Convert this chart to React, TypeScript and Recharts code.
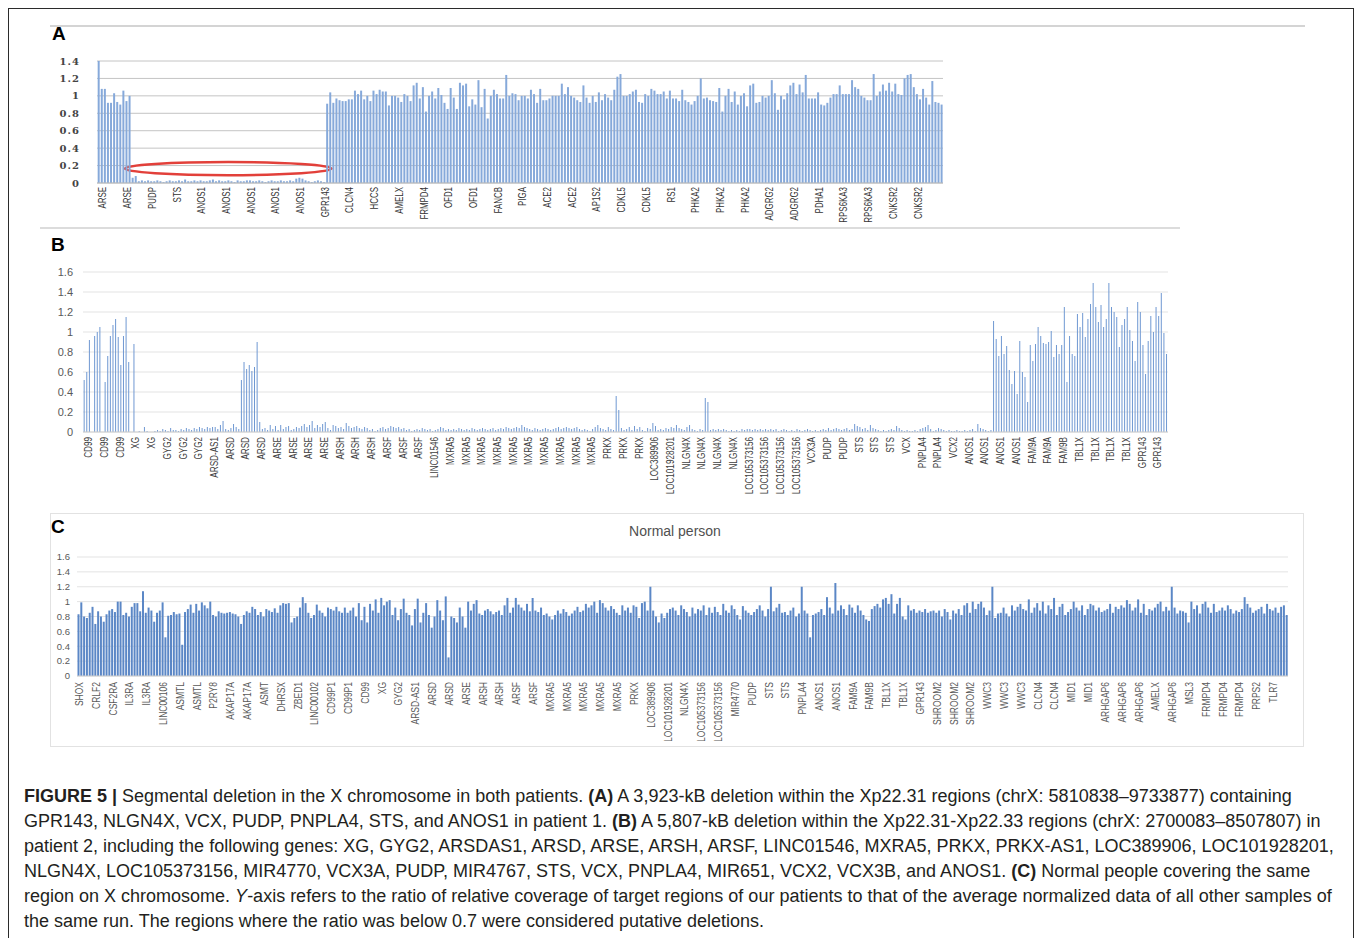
import { BarChart, Bar, XAxis, YAxis, CartesianGrid, ReferenceArea } from 'recharts'

// ---- Panel A (patient 1) ----
const aGenes = [
  'ARSE', 'ARSE', 'PUDP', 'STS', 'ANOS1', 'ANOS1', 'ANOS1', 'ANOS1', 'ANOS1', 'GPR143',
  'CLCN4', 'HCCS', 'AMELX', 'FRMPD4', 'OFD1', 'OFD1', 'FANCB', 'PIGA', 'ACE2', 'ACE2',
  'AP1S2', 'CDKL5', 'CDKL5', 'RS1', 'PHKA2', 'PHKA2', 'PHKA2', 'ADGRG2', 'ADGRG2', 'PDHA1',
  'RPS6KA3', 'RPS6KA3', 'CNKSR2', 'CNKSR2',
]
const aTicks = [0, 0.2, 0.4, 0.6, 0.8, 1, 1.2, 1.4]
const aLeft = [1.4, 1.08, 1.08, .92, .92, 1.03, .93, .9, 1.06, .94, 1.0]
const aDeleted = [
  .06, .08, .02, .03, .02, .03, .02, .02, .03, .02,
  .01, .02, .03, .02, .02, .03, .02, .04, .02, .02,
  .03, .02, .03, .02, .02, .03, .04, .02, .03, .02,
  .02, .03, .02, .01, .03, .02, .02, .03, .03, .02,
  .02, .03, .02, .01, .02, .03, .02, .02, .03, .02,
  .02, .03, .02, .05, .06, .05, .03, .02, .01, .02,
  .03, .02, .01,
]
const aRight = [
  .91,
  1.04, .92, .97, .95, .94, .94, .96, .96, 1.06, 1.02,
  1.06, .96, 1.0, .94, 1.06, 1.02, 1.07, 1.05, 1.05, .89,
  1.0, 1.0, .98, .93, 1.02, 1.0, .94, 1.12, 1.15, .97,
  1.1, .82, 1.0, 1.05, .97, 1.09, 1.01, .92, .85, 1.09,
  .98, .85, 1.15, 1.12, 1.14, .88, .96, .9, 1.18, .87,
  1.08, .74, 1.0, 1.07, 1.02, .97, .97, 1.24, 1.0, 1.03,
  1.02, .95, 1.0, 1.0, .97, 1.07, 1.02, .92, 1.08, .95,
  .95, .97, 1.0, 1.0, 1.0, 1.14, 1.02, 1.1, 1.0, .98,
  .95, .93, 1.12, .98, .92, 1.0, .93, 1.04, .95, 1.02,
  .98, .95, 1.07, 1.22, 1.25, 1.0, 1.0, 1.02, 1.05, 1.07,
  .93, .92, 1.02, 1.0, 1.08, 1.06, 1.02, 1.02, 1.05, .97,
  1.06, .97, .97, .94, 1.07, .95, .93, .9, .94, 1.0,
  1.2, .97, .98, .95, .94, .93, 1.09, .82, 1.0, 1.08,
  .93, 1.05, .9, 1.0, 1.03, .88, 1.12, 1.14, .92, .93,
  1.0, .98, 1.0, 1.18, 1.03, .84, 1.0, .96, 1.03, 1.12,
  1.15, 1.02, 1.13, 1.04, 1.24, .97, .97, .97, 1.04, .9,
  .89, .92, .98, 1.02, 1.02, 1.12, 1.02, 1.02, 1.02, 1.18,
  1.1, 1.08, 1.0, .98, .95, .95, 1.25, 1.0, 1.05, 1.13,
  1.06, 1.15, 1.05, 1.14, 1.02, 1.01, 1.2, 1.24, 1.25, 1.1,
  1.02, .96, 1.08, .98, .9, 1.17, .93, .92, .9,
]

// ---- Panel B (patient 2) ----
const bGenes = [
  'CD99', 'CD99', 'CD99', 'XG', 'XG', 'GYG2', 'GYG2', 'GYG2', 'ARSD-AS1', 'ARSD',
  'ARSD', 'ARSD', 'ARSE', 'ARSE', 'ARSE', 'ARSE', 'ARSH', 'ARSH', 'ARSH', 'ARSF',
  'ARSF', 'ARSF', 'LINC01546', 'MXRA5', 'MXRA5', 'MXRA5', 'MXRA5', 'MXRA5', 'MXRA5', 'MXRA5',
  'MXRA5', 'MXRA5', 'MXRA5', 'PRKX', 'PRKX', 'PRKX', 'LOC389906', 'LOC101928201', 'NLGN4X', 'NLGN4X',
  'NLGN4X', 'NLGN4X', 'LOC105373156', 'LOC105373156', 'LOC105373156', 'LOC105373156', 'VCX3A', 'PUDP', 'PUDP', 'STS',
  'STS', 'STS', 'VCX', 'PNPLA4', 'PNPLA4', 'VCX2', 'ANOS1', 'ANOS1', 'ANOS1', 'ANOS1',
  'FAM9A', 'FAM9A', 'FAM9B', 'TBL1X', 'TBL1X', 'TBL1X', 'TBL1X', 'GPR143', 'GPR143',
]
const bTicks = [0, 0.2, 0.4, 0.6, 0.8, 1, 1.2, 1.4, 1.6]
const bLeft = [.52, .6, .92, 0, .96, 1.0, 1.05, 0, .5, .76, .96, 1.07, 1.13, .95, .67, .96, 1.15, .7, 0, .88]
const bDeleted = [
  0, .01, 0, .05, .01, 0, 0, .01, .02, .01,
  .03, .02, .01, .04, .02, .02, .01, .03, .02, .04,
  .03, .02, .04, .03, .05, .04, .03, .05, .04, .05,
  .05, .03, .07, .11, .03, .02, .04, .08, .05, .03,
  .52, .7, .63, .67, .61, .65, .9, .1, .03, .04,
  .02, .07, .03, .06, .02, .07, .03, .05, .06, .02,
  .03, .05, .04, .06, .08, .05, .07, .11, .04, .07,
  .05, .08, .1, .04, .02, .07, .06, .04, .05, .03,
  .09, .06, .04, .05, .06, .04, .03, .05, .04, .02,
  .03, .01, .02, .04, .05, .03, .04, .06, .05, .04,
  .05, .03, .04, .02, .03, .01, .02, .03, .02, .04,
  .03, .02, .03, .01, .02, .03, .05, .04, .02, .03,
  .02, .03, .02, .04, .03, .02, .03, .02, .04, .03,
  .02, .03, .04, .03, .02, .03, .04, .02, .03, .04,
  .03, .05, .04, .03, .04, .05, .04, .07, .05, .04,
  .03, .02, .04, .03, .02, .03, .04, .03, .02, .03,
  .04, .05, .03, .04, .05, .04, .03, .04, .05, .03,
  .02, .03, .02, .01, .03, .05, .07, .04, .03, .02,
  .05, .03, .02, .36, .22, .04, .02, .03, .05, .02,
  .06, .03, .05, .02, .01, .04, .03, .09, .06, .02,
  .03, .02, .04, .03, .05, .04, .07, .04, .03, .02,
  .05, .07, .03, .02, .01, .03, .02, .34, .3, .02,
  .03, .02, .03, .02, .03, .02, .01, .02, .01, .02,
  .01, .03, .02, .03, .03, .02, .03, .02, .03, .02,
  .03, .02, .03, .02, .03, .01, .02, .03, .02, .01,
  .02, .01, .03, .02, .01, .02, .03, .02, .01, .02,
  .01, .02, .03, .02, .04, .02, .03, .04, .03, .02,
  .03, .04, .02, .03, .08, .06, .05, .03, .04, .02,
  .07, .04, .03, .02, .01, .02, .01, .02, .03, .02,
  .06, .04, .02, .01, .02, .01, .01, .02, .01, .03,
  .04, .05, .07, .03, .01, .02, .04, .03, .02, .01,
  .02, .01, .01, .02, .01, .01, .02, .01, .02, .03,
  .01, .08, .04, .03, .02, .01, .02,
]
const bRight = [
  1.11, .93, .76, .96, .78, .86, .62, .48, .61, .38,
  .91, .6, .55, .3, .87, .71, .88, 1.05, .96, .89,
  .88, .9, 1.01, .75, .87, .78, .87, 1.25, .5, .96,
  .78, .76, 1.18, 1.05, 1.19, .95, 1.13, 1.28, 1.49, 1.25,
  1.1, 1.27, 1.05, 1.13, 1.49, 1.25, 1.2, 1.15, .85, 1.07,
  1.13, 1.25, 1.02, .91, .71, 1.3, 1.2, .87, .58, .91,
  1.16, 1.0, 1.25, 1.16, 1.39, .99, .78,
]

// ---- Panel C (normal person) ----
const cGenes = [
  'SHOX', 'CRLF2', 'CSF2RA', 'IL3RA', 'IL3RA', 'LINC00106', 'ASMTL', 'ASMTL', 'P2RY8', 'AKAP17A',
  'AKAP17A', 'ASMT', 'DHRSX', 'ZBED1', 'LINC00102', 'CD99P1', 'CD99P1', 'CD99', 'XG', 'GYG2',
  'ARSD-AS1', 'ARSD', 'ARSD', 'ARSE', 'ARSH', 'ARSH', 'ARSF', 'ARSF', 'MXRA5', 'MXRA5',
  'MXRA5', 'MXRA5', 'MXRA5', 'PRKX', 'LOC389906', 'LOC101928201', 'NLGN4X', 'LOC105373156', 'LOC105373156', 'MIR4770',
  'PUDP', 'STS', 'STS', 'PNPLA4', 'ANOS1', 'ANOS1', 'FAM9A', 'FAM9B', 'TBL1X', 'TBL1X',
  'GPR143', 'SHROOM2', 'SHROOM2', 'SHROOM2', 'WWC3', 'WWC3', 'WWC3', 'CLCN4', 'CLCN4', 'MID1',
  'MID1', 'ARHGAP6', 'ARHGAP6', 'ARHGAP6', 'AMELX', 'ARHGAP6', 'MSL3', 'FRMPD4', 'FRMPD4', 'FRMPD4',
  'PRPS2', 'TLR7',
]
const cTicks = [0, 0.2, 0.4, 0.6, 0.8, 1, 1.2, 1.4, 1.6]
const cPart1 = [
  .83, .99, .8, .78, .85, .93, .7, .87, .8, .73, .83, .88,
  .9, .86, 1.0, 1.0, .82, .85, .8, .93, .98, .98, .87, 1.14,
  .85, .92, .88, .73, .85, .88, .99, .52, .81, .82, .86, .83,
  .84, .42, .86, .9, .96, .85, .97, .88, .99, .95, .91, 1.0,
  .82, .8, .87, .85, .84, .85, .86, .84, .83, .8, .7, .82,
  .87, .85, .93, .9, .82, .86, .8, .9, .88, .86, .91, .85,
  .95, .98, .97, .98, .72, .78, .8, .92, 1.06, .98, .85, .78,
  .82, .96, .88, .85, .8, .92, .9, .88, .93, .87, .85, .92,
  .85, .88, .92, .8, .98, .75, .93, .72, .97, .88, 1.03, .85,
]
const cPart2 = [
  1.05, .95, 1.0, 1.02, .82, .92, .75, .9, 1.04, .85, .82, .68,
  .9, 1.04, .72, .85, .98, .82, .65, .8, 1.02, .88, .75, 1.07,
  .25, .8, .78, .72, .92, .8, .65, 1.0, .88, .97, 1.02, .84,
  .82, .88, .9, .87, .83, .86, .88, .82, .95, 1.05, .85, .92,
  1.05, .96, .92, .88, .97, .87, 1.05, .88, .86, .92, .82, .84,
  .8, .76, .82, .88, .84, .9, .86, .81, .84, .88, .93, .86,
  .88, .97, .92, .95, 1.0, .85, 1.02, .98, .92, .88, .94, .9,
  .85, .82, .95, .88, .92, .85, .95, .93, .78, .98, 1.0, .88,
  1.2, .88, .8, .72, .84, .78, .85, .9, .92, .88, .82, .95,
]
const cPart3 = [
  .9, .86, .8, .92, .84, .9, .88, .95, .82, .92, .85, .93,
  .86, .82, .97, .88, .85, .95, .9, .82, .76, .94, .88, .85,
  .82, .86, .9, .95, .88, .8, .9, 1.2, .87, .92, .97, .85,
  .86, .82, .88, .92, .8, .84, 1.2, .88, .84, .52, .82, .84,
  .86, .9, .82, 1.06, .92, .84, 1.25, .88, .95, .9, .82, .96,
  .92, .85, .95, .88, .82, .76, .74, .9, .94, .97, .92, 1.03,
  1.05, .97, 1.1, .84, .97, 1.05, .8, .76, .95, .88, .9, .85,
  .88, .86, .9, .85, .87, .88, .85, .88, .8, .9, .86, .76,
  .88, .84, .9, .82, .95, .98, .85, 1.0, .9, .97, 1.0, .92,
]
const cPart4 = [
  .82, .88, 1.2, .78, .84, .85, .92, .84, .8, .95, .88, .93,
  .97, .9, .88, 1.03, .85, .92, .98, .88, 1.0, .84, .95, .9,
  1.05, .82, .93, .97, .82, .86, .9, 1.0, .92, .88, .95, .82,
  .9, .97, .95, .88, .92, .86, .88, .9, .97, .85, .93, .9,
  .95, .92, 1.02, .97, .88, .92, 1.03, .85, .97, .82, .9, .88,
  .92, .97, 1.0, .87, .93, .88, 1.2, .92, .84, .88, .87, .85,
  .72, 1.0, .9, .95, .84, .97, 1.0, .92, .85, .97, .86, .88,
  .92, .88, .95, .9, .84, .88, .86, .9, 1.06, .97, .92, .85,
  .88, .9, .93, .84, .97, .9, .88, .92, .85, .93, .95, .82,
]

const aData = [...aLeft, ...aDeleted, ...aRight].map((v, i) => ({ i, v }))
const bData = [...bLeft, ...bDeleted, ...bRight].map((v, i) => ({ i, v }))
const cData = [...cPart1, ...cPart2, ...cPart3, ...cPart4].map((v, i) => ({ i, v }))

const sans = "'Liberation Sans', Arial, sans-serif"

type TickProps = {
  x?: number
  y?: number
  payload?: { value: number }
  genes: string[]
  per: number
  dx: number
  size: number
  squeeze: number
  color: string
}

// gene label under the first bar of each group, rotated and squeezed like the Excel narrow font
function GeneTick({ x = 0, y = 0, payload, genes, per, dx, size, squeeze, color }: TickProps) {
  const label = payload ? genes[Math.floor(payload.value / per)] : undefined
  if (!label) return null
  return (
    <text
      transform={`translate(${x + dx},${y}) rotate(-90) scale(${squeeze},1)`}
      textAnchor="end"
      dy="0.35em"
      fontSize={size}
      fontFamily={sans}
      fill={color}
    >
      {label}
    </text>
  )
}

const ellipse = (p: any) => (
  <ellipse
    cx={p.x + p.width / 2}
    cy={p.y + p.height / 2}
    rx={p.width / 2}
    ry={p.height / 2}
    fill="none"
    stroke="#e2403a"
    strokeWidth={2.5}
  />
)

const abs = (left: number, top: number) => ({ position: 'absolute' as const, left, top })
const hline = (left: number, top: number, width: number, color = '#d4d4d4') => (
  <div style={{ position: 'absolute', left, top, width, height: 2, background: color }} />
)

export default function App() {
  return (
    <div
      style={{
        position: 'absolute',
        left: 0,
        top: 0,
        width: 1357,
        height: 938,
        background: '#fff',
        overflow: 'hidden',
        fontFamily: sans,
      }}
    >
      {/* outer frame */}
      <div
        style={{
          position: 'absolute',
          left: 8,
          top: 8,
          width: 1344,
          height: 960,
          border: '1.5px solid #2b2b2b',
        }}
      />
      {hline(50, 25, 1255)}
      {hline(40, 227, 1140, '#dcdcdc')}
      <div
        style={{
          position: 'absolute',
          left: 50,
          top: 513,
          width: 1252,
          height: 232,
          border: '1px solid #e2e2e2',
        }}
      />

      <div style={{ ...abs(52, 23), fontWeight: 700, fontSize: 19 }}>A</div>
      <div style={{ ...abs(51, 234), fontWeight: 700, fontSize: 19 }}>B</div>
      <div style={{ ...abs(51, 516), fontWeight: 700, fontSize: 19 }}>C</div>

      <div style={abs(40, 50)}>
        <BarChart width={910} height={180} data={aData} margin={{ top: 11, right: 7, bottom: 0, left: 0 }} barCategoryGap="22%">
          <CartesianGrid vertical={false} stroke="#c4c4c4" />
          <XAxis
            dataKey="i"
            interval={7}
            height={47}
            tickLine={false}
            tickSize={0}
            tickMargin={4}
            axisLine={{ stroke: '#bdbdbd' }}
            tick={(p: any) => (
              <GeneTick {...p} genes={aGenes} per={8} dx={4} size={11} squeeze={0.72} color="#333" />
            )}
          />
          <YAxis
            domain={[0, 1.4]}
            ticks={aTicks}
            interval={0}
            width={57}
            axisLine={false}
            tickLine={false}
            tickSize={0}
            tickMargin={17}
            tick={{ fontSize: 10, fontWeight: 700, fill: '#444', fontFamily: "'DejaVu Serif', serif", letterSpacing: 1 }}
          />
          <Bar dataKey="v" fill="#86a9da" isAnimationActive={false} />
          <ReferenceArea x1={9} x2={75} y1={0.09} y2={0.24} shape={ellipse} />
        </BarChart>
      </div>

      <div style={abs(20, 262)}>
        <BarChart width={1155} height={232} data={bData} margin={{ top: 10, right: 7, bottom: 0, left: 0 }} barCategoryGap="25%">
          <CartesianGrid vertical={false} stroke="#e3e3e3" />
          <XAxis
            dataKey="i"
            interval={5}
            height={62}
            tickLine={false}
            tickSize={0}
            tickMargin={5}
            axisLine={{ stroke: '#d0d0d0' }}
            tick={(p: any) => (
              <GeneTick {...p} genes={bGenes} per={6} dx={4} size={11} squeeze={0.74} color="#404040" />
            )}
          />
          <YAxis
            domain={[0, 1.6]}
            ticks={bTicks}
            interval={0}
            width={63}
            axisLine={false}
            tickLine={false}
            tickSize={0}
            tickMargin={10}
            tick={{ fontSize: 11, fill: '#595959' }}
          />
          <Bar dataKey="v" fill="#6f98d2" isAnimationActive={false} />
        </BarChart>
      </div>

      <div
        style={{ ...abs(575, 523), width: 200, textAlign: 'center', fontSize: 14, color: '#505050' }}
      >
        Normal person
      </div>
      <div style={abs(20, 547)}>
        <BarChart width={1275} height={194} data={cData} margin={{ top: 10, right: 7, bottom: 0, left: 0 }} barCategoryGap="18%">
          <CartesianGrid vertical={false} stroke="#e3e3e3" />
          <XAxis
            dataKey="i"
            interval={5}
            height={65}
            tickLine={false}
            tickSize={0}
            tickMargin={6}
            axisLine={{ stroke: '#d0d0d0' }}
            tick={(p: any) => (
              <GeneTick {...p} genes={cGenes} per={6} dx={1} size={10} squeeze={0.85} color="#595959" />
            )}
          />
          <YAxis
            domain={[0, 1.6]}
            ticks={cTicks}
            interval={0}
            width={57}
            axisLine={false}
            tickLine={false}
            tickSize={0}
            tickMargin={7}
            tick={{ fontSize: 9.5, fill: '#595959' }}
          />
          <Bar dataKey="v" fill="#5b87c6" isAnimationActive={false} />
        </BarChart>
      </div>

      <div
        style={{
          ...abs(24, 784),
          width: 1320,
          fontSize: 18,
          lineHeight: '25px',
          color: '#231f20',
          whiteSpace: 'nowrap',
        }}
      >
        <div>
          <b>FIGURE 5 |</b> Segmental deletion in the X chromosome in both patients. <b>(A)</b> A 3,923-kB deletion
          within the Xp22.31 regions (chrX: 5810838–9733877) containing
        </div>
        <div>
          GPR143, NLGN4X, VCX, PUDP, PNPLA4, STS, and ANOS1 in patient 1. <b>(B)</b> A 5,807-kB deletion within the
          Xp22.31-Xp22.33 regions (chrX: 2700083–8507807) in
        </div>
        <div>
          patient 2, including the following genes: XG, GYG2, ARSDAS1, ARSD, ARSE, ARSH, ARSF, LINC01546, MXRA5,
          PRKX, PRKX-AS1, LOC389906, LOC101928201,
        </div>
        <div>
          NLGN4X, LOC105373156, MIR4770, VCX3A, PUDP, MIR4767, STS, VCX, PNPLA4, MIR651, VCX2, VCX3B, and ANOS1.{' '}
          <b>(C)</b> Normal people covering the same
        </div>
        <div>
          region on X chromosome. <i>Y</i>-axis refers to the ratio of relative coverage of target regions of our
          patients to that of the average normalized data of all other samples of
        </div>
        <div>the same run. The regions where the ratio was below 0.7 were considered putative deletions.</div>
      </div>
    </div>
  )
}
